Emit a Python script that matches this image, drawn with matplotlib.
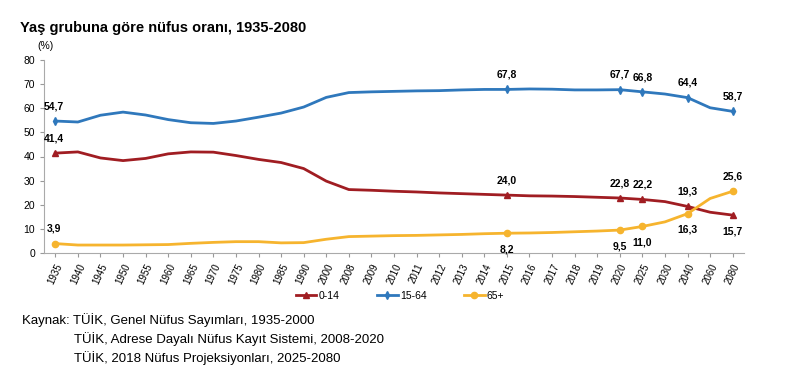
import matplotlib.pyplot as plt

plt.rcParams['font.family'] = ['Liberation Sans', 'DejaVu Sans']

years = ['1935', '1940', '1945', '1950', '1955', '1960', '1965', '1970', '1975',
         '1980', '1985', '1990', '2000', '2008', '2009', '2010', '2011', '2012',
         '2013', '2014', '2015', '2016', '2017', '2018', '2019', '2020', '2025',
         '2030', '2040', '2060', '2080']

age_0_14 = [41.4, 41.9, 39.4, 38.3, 39.2, 41.1, 41.9, 41.8, 40.4, 38.8, 37.5,
            35.0, 29.8, 26.3, 26.0, 25.6, 25.3, 24.9, 24.6, 24.3, 24.0, 23.7,
            23.6, 23.4, 23.1, 22.8, 22.2, 21.3, 19.3, 16.9, 15.7]
age_15_64 = [54.7, 54.3, 57.1, 58.4, 57.2, 55.3, 54.0, 53.7, 54.7, 56.3, 58.0,
             60.5, 64.5, 66.5, 66.8, 67.0, 67.2, 67.3, 67.6, 67.8, 67.8, 68.0,
             67.9, 67.6, 67.6, 67.7, 66.8, 65.9, 64.4, 60.2, 58.7]
age_65 = [3.9, 3.3, 3.3, 3.3, 3.4, 3.5, 4.0, 4.4, 4.7, 4.7, 4.2, 4.3, 5.7,
          6.8, 7.0, 7.2, 7.3, 7.5, 7.7, 8.0, 8.2, 8.3, 8.5, 8.8, 9.1, 9.5,
          11.0, 12.9, 16.3, 22.6, 25.6]

labelled = ['1935', '2015', '2020', '2025', '2040', '2080']

c_red = '#A01D22'
c_blue = '#2F78BC'
c_yel = '#F6B42E'

fig = plt.figure(figsize=(7.87, 3.83), dpi=100)
ax = fig.add_axes([44 / 787, 1 - 253 / 383, 700 / 787, 193 / 383])

x = list(range(len(years)))
mk = [years.index(y) for y in labelled]

ax.plot(x, age_0_14, color=c_red, lw=2, marker='^', ms=5, markevery=mk,
        label='0-14', solid_joinstyle='round')
ax.plot(x, age_15_64, color=c_blue, lw=2, marker='d', ms=4, markevery=mk,
        label='15-64', solid_joinstyle='round')
ax.plot(x, age_65, color=c_yel, lw=2, marker='o', ms=4.5, markevery=mk,
        label='65+', solid_joinstyle='round')

def lab(series, where):
    for y, pos in zip(labelled, where):
        i = years.index(y)
        v = series[i]
        txt = f'{v:.1f}'.replace('.', ',')
        dx = -1 if i == 0 else 0
        dy = 7 if pos == 'up' else -8
        ax.annotate(txt, (i, v), xytext=(dx, dy), textcoords='offset points',
                    ha='center', va='bottom' if pos == 'up' else 'top',
                    fontsize=7.5, fontweight='bold')

lab(age_0_14, ['up', 'up', 'up', 'up', 'up', 'down'])
lab(age_15_64, ['up'] * 6)
lab(age_65, ['up', 'down', 'down', 'down', 'down', 'up'])

ax.set_ylim(0, 80)
ax.set_yticks(range(0, 81, 10))
ax.set_xlim(-0.5, len(years) - 0.5)
ax.set_xticks(x)
ax.set_xticklabels(years, rotation=65, fontsize=7, ha='center')
ax.tick_params(axis='y', labelsize=7.5, length=3, color='#999999')
ax.tick_params(axis='x', length=3, color='#999999')
for s in ['top', 'right']:
    ax.spines[s].set_visible(False)
ax.spines['left'].set_color('#aaaaaa')
ax.spines['bottom'].set_color('#aaaaaa')

fig.text(46 / 787, 1 - 46 / 383, '(%)', fontsize=7.5, ha='center', va='center')

fig.text(20 / 787, 1 - 28 / 383, 'Yaş grubuna göre nüfus oranı, 1935-2080',
         fontsize=10.5, fontweight='bold', va='center')

ax.legend(loc='center', bbox_to_anchor=(400 / 787, 1 - 296 / 383),
          bbox_transform=fig.transFigure, ncol=3, frameon=False,
          fontsize=7.5, handlelength=2.0, columnspacing=3.6, handletextpad=0.2)

fig.text(22 / 787, 1 - 320 / 383, 'Kaynak: TÜİK, Genel Nüfus Sayımları, 1935-2000',
         fontsize=9.5, va='center')
fig.text(74 / 787, 1 - 339 / 383, 'TÜİK, Adrese Dayalı Nüfus Kayıt Sistemi, 2008-2020',
         fontsize=9.5, va='center')
fig.text(74 / 787, 1 - 358 / 383, 'TÜİK, 2018 Nüfus Projeksiyonları, 2025-2080',
         fontsize=9.5, va='center')

fig.savefig('out.png', dpi=100)
